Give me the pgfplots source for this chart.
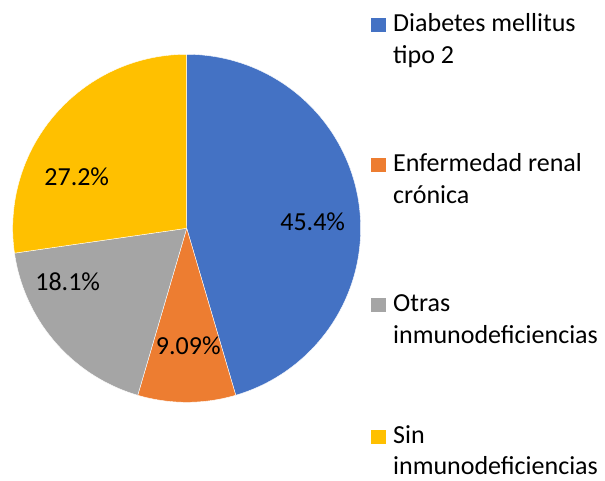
\documentclass[border=0pt]{standalone}
\usepackage{pgfplots}
\pgfplotsset{compat=1.18}
\usepackage{fontspec}
\setmainfont{Carlito}
\definecolor{cBlue}{HTML}{4472C4}
\definecolor{cOrange}{HTML}{ED7D31}
\definecolor{cGray}{HTML}{A5A5A5}
\definecolor{cYellow}{HTML}{FFC000}
% data (percent)
\def\va{45.45}\def\vb{9.09}\def\vc{18.18}\def\vd{27.27}
\pgfmathsetmacro\aA{90}
\pgfmathsetmacro\aB{\aA-3.6*\va}
\pgfmathsetmacro\aC{\aB-3.6*\vb}
\pgfmathsetmacro\aD{\aC-3.6*\vc}
\pgfmathsetmacro\aE{\aD-3.6*\vd}
\begin{document}
\begin{tikzpicture}
\useasboundingbox (0,0) rectangle (605pt,481pt);
\begin{axis}[
  scale only axis, width=348pt, height=348pt,
  xmin=-1, xmax=1, ymin=-1, ymax=1,
  hide axis, clip=false,
  anchor=center, at={(186.7pt,252.7pt)},
  every axis plot/.append style={draw=white, line width=0.4pt, samples=90, variable=\t},
]
\addplot[fill=cBlue, domain=\aB:\aA] ({cos(\t)},{sin(\t)}) -- (axis cs:0,0) -- cycle;
\addplot[fill=cOrange, domain=\aC:\aB] ({cos(\t)},{sin(\t)}) -- (axis cs:0,0) -- cycle;
\addplot[fill=cGray, domain=\aD:\aC] ({cos(\t)},{sin(\t)}) -- (axis cs:0,0) -- cycle;
\addplot[fill=cYellow, domain=\aE:\aD] ({cos(\t)},{sin(\t)}) -- (axis cs:0,0) -- cycle;
\begin{scope}[every node/.style={font=\fontsize{26}{31}\selectfont, text=black, inner sep=0pt}]
\node at (axis cs:0.724,0.038) {45.4\%};
\node at (axis cs:0.009,-0.676) {9.09\%};
\node at (axis cs:-0.684,-0.307) {18.1\%};
\node at (axis cs:-0.632,0.297) {27.2\%};
\end{scope}
\end{axis}
\begin{scope}[every node/.style={font=\fontsize{26}{31.7}\selectfont, anchor=base west, inner sep=0pt}]
% entry 1
\fill[cBlue] (371pt,448.7pt) rectangle (385.5pt,462.7pt);
\node at (393pt,449.3pt) {Diabetes mellitus};
\node at (393pt,417.7pt) {tipo 2};
% entry 2
\fill[cOrange] (371pt,308.7pt) rectangle (385.5pt,322.7pt);
\node at (393pt,309.3pt) {Enfermedad renal};
\node at (393pt,277.7pt) {crónica};
% entry 3
\fill[cGray] (371pt,168.7pt) rectangle (385.5pt,182.7pt);
\node at (393pt,169.3pt) {Otras};
\node at (393pt,137.7pt) {inmunodeficiencias};
% entry 4
\fill[cYellow] (371pt,37pt) rectangle (385.5pt,51pt);
\node at (393pt,37.6pt) {Sin};
\node at (393pt,6.5pt) {inmunodeficiencias};
\end{scope}
\end{tikzpicture}
\end{document}
